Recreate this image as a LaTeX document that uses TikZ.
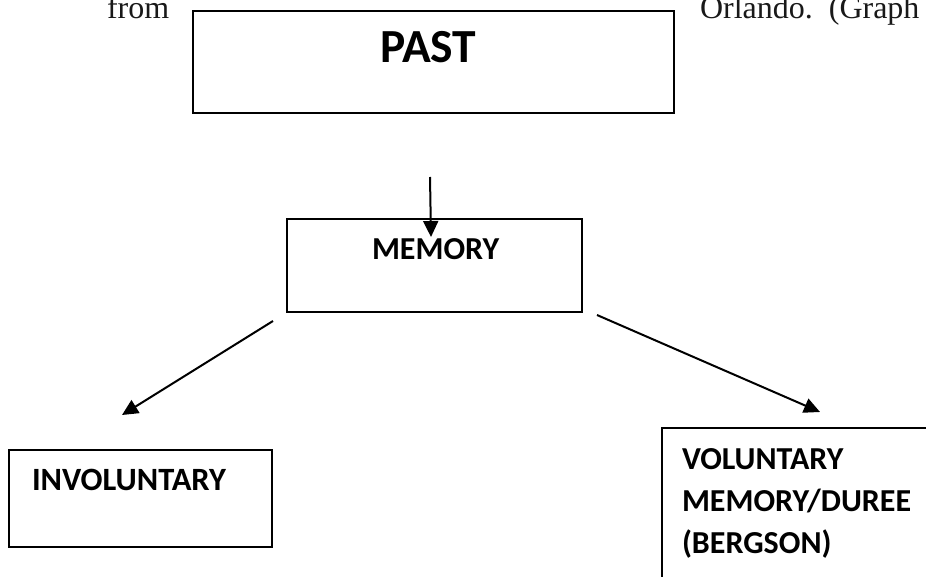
\documentclass[tikz,border=0pt]{standalone}
\usepackage{fontspec}
\setmainfont{Liberation Serif}
\newfontfamily\carl{Carlito}
\usetikzlibrary{arrows.meta}
\tikzset{
  box/.style={draw=black, line width=2pt, inner sep=0pt, outer sep=0pt, anchor=north west},
  lbl/.style={inner sep=0pt, outer sep=0pt, anchor=base west, font=\carl\bfseries\fontsize{32}{42}\selectfont},
  big/.style={inner sep=0pt, outer sep=0pt, anchor=base west, font=\carl\bfseries\fontsize{47.5}{50}\selectfont},
  body/.style={inner sep=0pt, outer sep=0pt, anchor=base west, font=\fontsize{32}{36}\selectfont, text=black!90},
  arr/.style={line width=2pt, -{Triangle[length=16pt,width=15pt]}}
}
\begin{document}
\begin{tikzpicture}[x=1pt,y=-1pt]
\clip (0,0) rectangle (926,577);
% surrounding text
\node[body] (from) at (107,19) {from};
\node[body] (orl) at (700,19) {Orlando.\ \ (Graph};
% boxes
\node[box, minimum width=481pt, minimum height=102pt] (past) at (193,11) {};
\node[big] (pastt) at (380,63) {PAST};
\node[box, minimum width=295pt, minimum height=93pt] (mem) at (287,219) {};
\node[lbl] (memt) at (372,260) {MEMORY};
\node[box, minimum width=263pt, minimum height=97pt] (inv) at (9,450) {};
\node[lbl, font=\carl\bfseries\fontsize{32.5}{42}\selectfont] (invt) at (32,490) {INVOLUNTARY};
\node[box, minimum width=300pt, minimum height=200pt] (vol) at (662,428) {};
\node[lbl, align=left] (volt) at (682,553) {VOLUNTARY\\MEMORY/DUREE\\(BERGSON)};
% arrows
\coordinate (a1s) at (430,177);
\coordinate (a1e) at (431,237);
\coordinate (a2s) at (273,321);
\coordinate (a2e) at (122,415);
\coordinate (a3s) at (597,315);
\coordinate (a3e) at (820,412);
\draw[arr] (a1s) -- (a1e);
\draw[arr] (a2s) -- (a2e);
\draw[arr] (a3s) -- (a3e);
\end{tikzpicture}
\end{document}
